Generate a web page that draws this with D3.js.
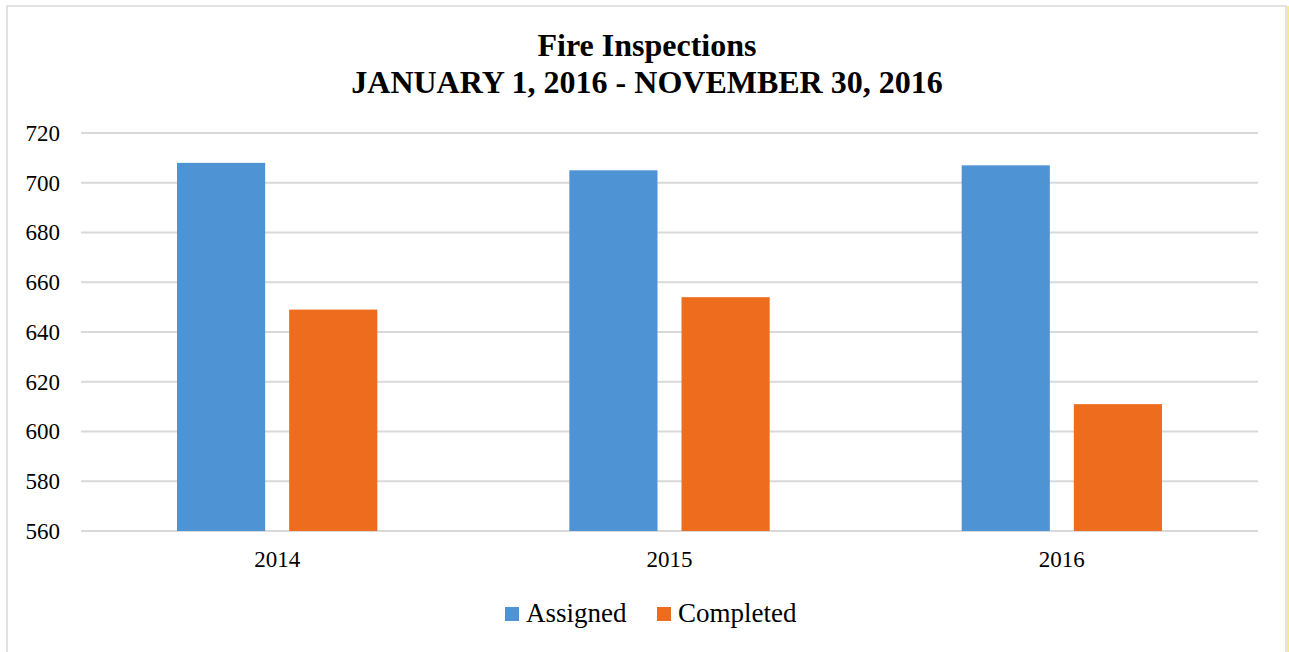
<!DOCTYPE html>
<html>
<head>
<meta charset="utf-8">
<script src="https://cdn.jsdelivr.net/npm/d3@7"></script>
<style>
  body { margin: 0; background: #fff; }
  svg text { font-family: "Liberation Serif", "Times New Roman", serif; }
</style>
</head>
<body>
<div id="chart"></div>
<script>
var years = ['2014', '2015', '2016'];
var seriesNames = ['Assigned', 'Completed'];
var assigned = [708, 705, 707];
var completed = [649, 654, 611];
var yTicks = [560, 580, 600, 620, 640, 660, 680, 700, 720];
var colors = ['#4e94d4', '#ee6c1e'];

var width = 1289, height = 652;
var plot = { left: 81, right: 1258, top: 133, bottom: 531 };

var svg = d3.select('#chart').append('svg')
  .attr('width', width)
  .attr('height', height);

// frame
svg.append('rect')
  .attr('x', 7).attr('y', 6)
  .attr('width', 1279).attr('height', 660)
  .attr('fill', 'none')
  .attr('stroke', '#d9d9d9')
  .attr('stroke-width', 1.5);
svg.append('line')
  .attr('x1', 1288).attr('x2', 1288).attr('y1', 6).attr('y2', height)
  .attr('stroke', '#f3e65a').attr('stroke-width', 1.5);

svg.append('text')
  .attr('x', 647).attr('y', 56)
  .attr('text-anchor', 'middle')
  .attr('font-size', 32).attr('font-weight', 'bold')
  .text('Fire Inspections');
svg.append('text')
  .attr('x', 647).attr('y', 93)
  .attr('text-anchor', 'middle')
  .attr('font-size', 32).attr('font-weight', 'bold')
  .text('JANUARY 1, 2016 - NOVEMBER 30, 2016');

var y = d3.scaleLinear().domain([560, 720]).range([plot.bottom, plot.top]);
var x0 = d3.scaleBand().domain(years).range([plot.left, plot.right]);
var x1 = d3.scaleBand().domain(seriesNames)
  .range([96, x0.bandwidth() - 96])
  .paddingInner(0.214);

// gridlines
svg.append('g').selectAll('line')
  .data(yTicks)
  .join('line')
  .attr('x1', plot.left).attr('x2', plot.right)
  .attr('y1', function(d) { return y(d); })
  .attr('y2', function(d) { return y(d); })
  .attr('stroke', '#d9d9d9')
  .attr('stroke-width', 2);

var yAxis = svg.append('g')
  .attr('transform', 'translate(' + (plot.left - 21) + ',0)')
  .call(d3.axisLeft(y).tickValues(yTicks).tickSize(0).tickPadding(0));
yAxis.select('.domain').remove();
yAxis.selectAll('text')
  .style('font-size', '23px')
  .style('font-family', '"Liberation Serif", serif')
  .attr('fill', '#000');

var xAxis = svg.append('g')
  .attr('transform', 'translate(0,' + (plot.bottom + 20) + ')')
  .call(d3.axisBottom(x0).tickSize(0).tickPadding(0));
xAxis.select('.domain').remove();
xAxis.selectAll('text')
  .style('font-size', '23px')
  .style('font-family', '"Liberation Serif", serif')
  .attr('fill', '#000')
  .attr('dy', '0.71em');

var rows = years.map(function(yr, i) {
  return { year: yr, values: [assigned[i], completed[i]] };
});

var groups = svg.append('g').selectAll('g')
  .data(rows)
  .join('g')
  .attr('transform', function(d) { return 'translate(' + x0(d.year) + ',0)'; });

groups.selectAll('rect')
  .data(function(d) {
    return d.values.map(function(v, i) { return { name: seriesNames[i], value: v, idx: i }; });
  })
  .join('rect')
  .attr('x', function(d) { return x1(d.name); })
  .attr('width', x1.bandwidth())
  .attr('y', function(d) { return y(d.value); })
  .attr('height', function(d) { return plot.bottom - y(d.value); })
  .attr('fill', function(d) { return colors[d.idx]; });

// legend
var legendX = [505, 657];
var legend = svg.append('g').selectAll('g')
  .data(seriesNames)
  .join('g')
  .attr('transform', function(d, i) { return 'translate(' + legendX[i] + ',607)'; });
legend.append('rect')
  .attr('width', 14).attr('height', 14)
  .attr('fill', function(d, i) { return colors[i]; });
legend.append('text')
  .attr('x', 21).attr('y', 15)
  .attr('font-size', 27)
  .text(function(d) { return d; });
</script>
</body>
</html>
